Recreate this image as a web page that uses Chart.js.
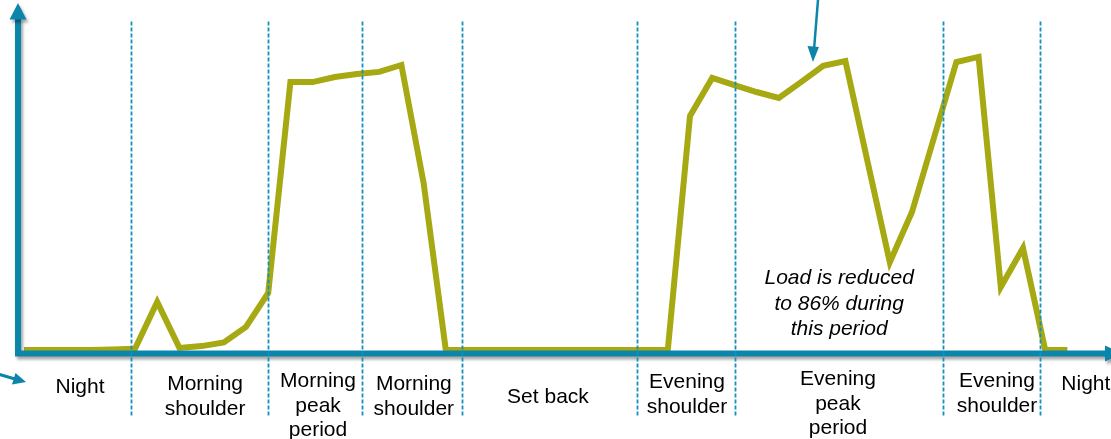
<!DOCTYPE html>
<html>
<head>
<meta charset="utf-8">
<script src="https://cdn.jsdelivr.net/npm/chart.js@4.4.1/dist/chart.umd.min.js"></script>
<style>
  html, body { margin: 0; padding: 0; background: #fff; }
  #wrap { position: relative; width: 1111px; height: 439px; }
</style>
</head>
<body>
<div id="wrap"><canvas id="loadChart"></canvas></div>
<script>
// half-hourly samples over the day
const hours = [0, 0.5, 1, 1.5, 2, 2.5, 3, 3.5, 4, 4.5, 5, 5.5,
  6, 6.5, 7, 7.5, 8, 8.5, 9, 9.5, 10, 10.5, 11, 11.5,
  12, 12.5, 13, 13.5, 14, 14.5, 15, 15.5, 16, 16.5, 17, 17.5,
  18, 18.5, 19, 19.5, 20, 20.5, 21, 21.5, 22, 22.5, 23, 23.5];
const load = [0, 0, 0, 0, 0.2, 0.4, 16, 0.7, 1.3, 2.5, 7.7, 19,
  89.3, 89.3, 91, 92, 92.7, 95, 55.7, 0, 0, 0, 0, 0,
  0, 0, 0, 0, 0, 0, 78, 90.7, 88.3, 86, 84, 89.3,
  94.7, 96.3, 62.7, 29.3, 46, 71, 96, 97.7, 21, 34, 0, 0];
// period boundaries (hours)
const periodBounds = [2.41, 5.5, 7.61, 9.86, 13.81, 16.01, 20.7, 22.88];
const periodLabels = [
  ['Night'],
  ['Morning', 'shoulder'],
  ['Morning', 'peak', 'period'],
  ['Morning', 'shoulder'],
  ['Set back'],
  ['Evening', 'shoulder'],
  ['Evening', 'peak', 'period'],
  ['Evening', 'shoulder'],
  ['Night']
];
const noteLines = ['Load is reduced', 'to 86% during', 'this period'];

// layout tweaks (pixels)
const labelNudge = [2.5, 5.5, 3, 2, -1.5, 1, -1, 5.5, 10];
const labelBaseline = [393, 390, 387, 390, 403, 388, 385, 387, 390];
const lineGap = 24.5;

const BLUE = '#0b86aa';
const DASH = '#1590bd';
const OLIVE = '#a6a912';
const FONT = '"Liberation Sans", Arial, sans-serif';

const decorPlugin = {
  id: 'decor',
  afterDatasetsDraw(chart) {
    const { ctx, scales: { x, y } } = chart;
    const zeroY = y.getPixelForValue(0);
    const axisY = zeroY + 3.5;
    const axisX = x.left - 6;

    ctx.save();
    // axes with shadow
    ctx.shadowColor = 'rgba(0,0,0,0.35)';
    ctx.shadowBlur = 3;
    ctx.shadowOffsetX = 2;
    ctx.shadowOffsetY = 3;
    ctx.strokeStyle = BLUE;
    ctx.fillStyle = BLUE;
    ctx.lineWidth = 6;
    ctx.beginPath();
    ctx.moveTo(axisX, 18);
    ctx.lineTo(axisX, axisY + 3);
    ctx.moveTo(axisX - 3, axisY);
    ctx.lineTo(1106, axisY);
    ctx.stroke();
    ctx.beginPath();
    ctx.moveTo(axisX, 3);
    ctx.lineTo(axisX - 8.5, 19.5);
    ctx.lineTo(axisX + 8.5, 19.5);
    ctx.closePath();
    ctx.fill();
    ctx.beginPath();
    ctx.moveTo(1122, axisY);
    ctx.lineTo(1105, axisY - 8);
    ctx.lineTo(1105, axisY + 8);
    ctx.closePath();
    ctx.fill();
    ctx.restore();

    // small arrow bottom left
    ctx.save();
    ctx.strokeStyle = BLUE;
    ctx.fillStyle = BLUE;
    ctx.lineWidth = 3;
    ctx.beginPath();
    ctx.moveTo(-2, 374);
    ctx.lineTo(15, 379);
    ctx.stroke();
    ctx.beginPath();
    ctx.moveTo(26, 382);
    ctx.lineTo(12, 384.5);
    ctx.lineTo(15.5, 373);
    ctx.closePath();
    ctx.fill();

    // annotation arrow pointing at evening peak
    const tipX = x.getPixelForValue(17.77);
    const tipY = y.getPixelForValue(96);
    ctx.lineWidth = 2.5;
    ctx.beginPath();
    ctx.moveTo(tipX + 5, 0);
    ctx.lineTo(tipX + 1, tipY - 12);
    ctx.stroke();
    ctx.beginPath();
    ctx.moveTo(tipX, tipY);
    ctx.lineTo(tipX - 5.5, tipY - 16);
    ctx.lineTo(tipX + 6, tipY - 15);
    ctx.closePath();
    ctx.fill();
    ctx.restore();

    // period dividers
    ctx.save();
    ctx.strokeStyle = DASH;
    ctx.lineWidth = 1.8;
    ctx.setLineDash([4, 2]);
    const topY = y.getPixelForValue(109.5);
    periodBounds.forEach(h => {
      const px = Math.round(x.getPixelForValue(h)) + 0.5;
      ctx.beginPath();
      ctx.moveTo(px, topY);
      ctx.lineTo(px, 417);
      ctx.stroke();
    });
    ctx.restore();

    // period labels
    ctx.save();
    ctx.fillStyle = '#000';
    ctx.font = '21px ' + FONT;
    ctx.textAlign = 'center';
    ctx.textBaseline = 'alphabetic';
    const edges = [0, ...periodBounds, 24.5];
    periodLabels.forEach((lines, i) => {
      const cx = x.getPixelForValue((edges[i] + edges[i + 1]) / 2) + labelNudge[i];
      lines.forEach((t, k) => ctx.fillText(t, cx, labelBaseline[i] + k * lineGap));
    });

    // note text
    ctx.font = 'italic 21px ' + FONT;
    const noteX = x.getPixelForValue(18.36);
    noteLines.forEach((t, k) => ctx.fillText(t, noteX, 284 + k * 25.5));
    ctx.restore();
  }
};

new Chart(document.getElementById('loadChart'), {
  type: 'line',
  data: {
    datasets: [{
      label: 'Load',
      data: hours.map((h, i) => ({ x: h, y: load[i] })),
      borderColor: OLIVE,
      borderWidth: 6,
      borderJoinStyle: 'miter',
      pointRadius: 0,
      tension: 0,
      fill: false,
      clip: false
    }]
  },
  options: {
    responsive: true,
    maintainAspectRatio: false,
    animation: false,
    events: [],
    layout: { padding: { left: 24, right: 21.4, top: 5, bottom: 89 } },
    plugins: { legend: { display: false }, tooltip: { enabled: false } },
    scales: {
      x: { type: 'linear', min: 0, max: 24, display: false },
      y: { min: 0, max: 115, display: false }
    }
  },
  plugins: [decorPlugin]
});
</script>
</body>
</html>
